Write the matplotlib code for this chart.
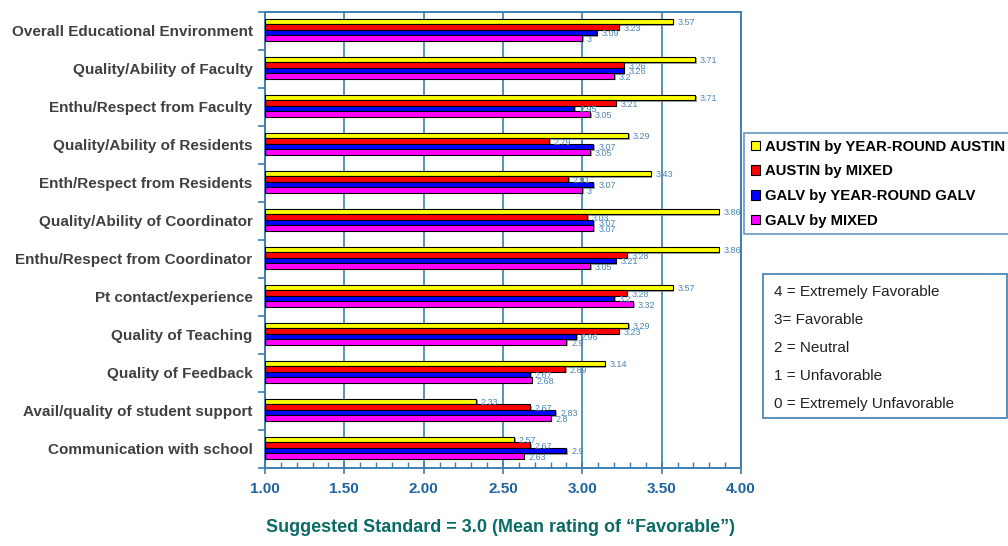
import matplotlib
matplotlib.use('Agg')
import matplotlib.pyplot as plt
import matplotlib.ticker as ticker
import matplotlib.patheffects as pe
from matplotlib.patches import Rectangle
import numpy as np

plt.rcParams['font.family'] = ['Liberation Sans', 'DejaVu Sans']

# Data
categories = ['Overall Educational Environment', 'Quality/Ability of Faculty',
              'Enthu/Respect from Faculty', 'Quality/Ability of Residents',
              'Enth/Respect from Residents', 'Quality/Ability of Coordinator',
              'Enthu/Respect from Coordinator', 'Pt contact/experience',
              'Quality of Teaching', 'Quality of Feedback',
              'Avail/quality of student support', 'Communication with school']
austin_yr = [3.57, 3.71, 3.71, 3.29, 3.43, 3.86, 3.86, 3.57, 3.29, 3.14, 2.33, 2.57]
austin_mixed = [3.23, 3.26, 3.21, 2.79, 2.91, 3.03, 3.28, 3.28, 3.23, 2.89, 2.67, 2.67]
galv_yr = [3.09, 3.26, 2.95, 3.07, 3.07, 3.07, 3.21, 3.2, 2.96, 2.67, 2.83, 2.9]
galv_mixed = [3, 3.2, 3.05, 3.05, 3, 3.07, 3.05, 3.32, 2.9, 2.68, 2.8, 2.63]

series = [('AUSTIN by YEAR-ROUND AUSTIN', austin_yr, '#ffff00'),
          ('AUSTIN by MIXED', austin_mixed, '#ff0000'),
          ('GALV by YEAR-ROUND GALV', galv_yr, '#0000ff'),
          ('GALV by MIXED', galv_mixed, '#ff00ff')]
scale_notes = ['4 = Extremely Favorable', '3= Favorable', '2 = Neutral',
               '1 = Unfavorable', '0 = Extremely Unfavorable']

blue = '#3d7fb3'
fig = plt.figure(figsize=(10.08, 5.46), dpi=100)
ax = fig.add_axes([0.2629, 0.1429, 0.4722, 0.8352])

y = np.arange(len(categories))
bh = 0.14
offsets = (np.arange(4) - 1.5) * 0.145 - 0.035
shadow = [pe.SimplePatchShadow(offset=(1.2, -1.2), shadow_rgbFace='#888888', alpha=0.8), pe.Normal()]

for k, (name, vals, col) in enumerate(series):
    bars = ax.barh(y + offsets[k], np.array(vals) - 1.0, left=1.0, height=bh,
                   color=col, edgecolor='black', linewidth=0.8, label=name, zorder=3)
    for b in bars:
        b.set_path_effects(shadow)
    for yi, v in zip(y, vals):
        ax.text(v + 0.03, yi + offsets[k] + 0.03, f'{v:g}', fontsize=6.5,
                color='#4a86b8', va='center', ha='left', zorder=4)

ax.set_xlim(1.0, 4.0)
ax.set_ylim(len(categories) - 0.5, -0.5)

# X axis
ax.xaxis.set_major_locator(ticker.MultipleLocator(0.5))
ax.xaxis.set_minor_locator(ticker.MultipleLocator(0.1))
ax.xaxis.set_major_formatter(ticker.FormatStrFormatter('%.2f'))
ax.tick_params(axis='x', which='major', direction='inout', length=8, width=1.2,
               color=blue, labelcolor='#1f63a0', labelsize=11, pad=6)
ax.tick_params(axis='x', which='minor', direction='in', length=4, width=1, color=blue)
for lab in ax.get_xticklabels():
    lab.set_fontweight('bold')
ax.grid(axis='x', which='major', color=blue, linewidth=1.2, zorder=0)

# Y axis
ax.set_yticks(y)
ax.set_yticklabels(categories, fontsize=11, fontweight='bold', color='#404040')
ax.yaxis.set_minor_locator(ticker.FixedLocator(np.arange(len(categories) + 1) - 0.5))
ax.tick_params(axis='y', which='major', length=0, pad=9)
ax.tick_params(axis='y', which='minor', direction='out', length=5, width=1.2, color=blue)

for s in ax.spines.values():
    s.set_color(blue)
    s.set_linewidth(1.4)

fig.text(0.497, 0.018, 'Suggested Standard = 3.0 (Mean rating of \u201cFavorable\u201d)',
         ha='center', va='bottom', fontsize=13, fontweight='bold', color='#0a6b66')

# Legend
leg = fig.legend(handles=[Rectangle((0, 0), 1, 1, facecolor=c, edgecolor='black', linewidth=0.8)
                          for _, _, c in series],
                 labels=[n for n, _, _ in series],
                 loc='upper left', bbox_to_anchor=(744 / 1008, 1 - 133 / 546),
                 frameon=True, fancybox=False, handlelength=0.6, handleheight=0.6,
                 handletextpad=0.35, labelspacing=0.72, borderpad=0.45, borderaxespad=0,
                 prop={'weight': 'bold', 'size': 10.7})
leg.get_frame().set_edgecolor(blue)
leg.get_frame().set_linewidth(1.2)

# Scale note box
fig.patches.append(Rectangle((763 / 1008, 1 - 418 / 546), 244 / 1008, 144 / 546,
                             transform=fig.transFigure, facecolor='white',
                             edgecolor=blue, linewidth=1.2))
for i, note in enumerate(scale_notes):
    fig.text(774 / 1008, 1 - (292 + 28 * i) / 546, note, fontsize=11,
             color='#222222', va='center', ha='left')

fig.savefig('out.png', dpi=100)
